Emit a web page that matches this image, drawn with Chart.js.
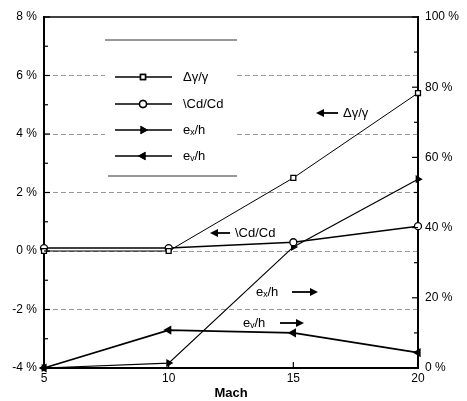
<!DOCTYPE html>
<html>
<head>
<meta charset="utf-8">
<script src="https://cdn.jsdelivr.net/npm/chart.js@4/dist/chart.umd.min.js"></script>
<style>
  html, body { margin: 0; padding: 0; background: #fff; }
  #wrap { width: 467px; height: 401px; }
</style>
</head>
<body>
<div id="wrap"><canvas id="c"></canvas></div>
<script>
// data
const mach = [5, 10, 15, 20];
const dGamma = [0.0, 0.0, 2.5, 5.4];      // left axis, %
const dCd = [0.1, 0.1, 0.3, 0.85];        // left axis, %
const exH = [0, 1.4, 34.5, 53.8];         // right axis, %
const evH = [0, 10.8, 10, 4.4];           // right axis, %
const seriesLabels = ['Δγ/γ', '\\Cd/Cd', 'eₓ/h', 'eᵥ/h'];
const leftTicks = [-4, -2, 0, 2, 4, 6, 8];
const rightTicks = [0, 20, 40, 60, 80, 100];

const FONT = "'Liberation Sans', Arial, sans-serif";
const pts = vals => mach.map((m, i) => ({ x: m, y: vals[i] }));

// frame, inner ticks, legend box and arrow labels
const extras = {
  id: 'extras',
  afterDatasetsDraw(chart) {
    const { ctx, chartArea: a, scales } = chart;
    const { x, y, y1 } = scales;
    ctx.save();
    ctx.strokeStyle = '#000';
    ctx.lineWidth = 1.5;
    ctx.beginPath();
    ctx.moveTo(a.left, a.top);
    ctx.lineTo(a.right, a.top);
    ctx.stroke();

    ctx.lineWidth = 1.2;
    for (let v = -4; v <= 8; v += 1) {
      const py = y.getPixelForValue(v);
      const len = v % 2 === 0 ? 6 : 4;
      ctx.beginPath(); ctx.moveTo(a.left, py); ctx.lineTo(a.left + len, py); ctx.stroke();
    }
    for (let v = 0; v <= 100; v += 10) {
      const py = y1.getPixelForValue(v);
      const len = v % 20 === 0 ? 6 : 4;
      ctx.beginPath(); ctx.moveTo(a.right, py); ctx.lineTo(a.right - len, py); ctx.stroke();
    }
    mach.forEach(m => {
      const px = x.getPixelForValue(m);
      ctx.beginPath(); ctx.moveTo(px, a.bottom); ctx.lineTo(px, a.bottom - 6); ctx.stroke();
    });

    // legend box
    const lx0 = 105, lx1 = 237, ly0 = 40, ly1 = 176;
    ctx.fillStyle = '#fff';
    ctx.fillRect(lx0, ly0, lx1 - lx0, ly1 - ly0);
    ctx.strokeStyle = '#333';
    ctx.lineWidth = 1;
    ctx.beginPath(); ctx.moveTo(lx0, ly0); ctx.lineTo(lx1, ly0); ctx.stroke();
    ctx.beginPath(); ctx.moveTo(lx0 + 3, ly1); ctx.lineTo(lx1, ly1); ctx.stroke();
    const rows = [77, 104, 130, 156];
    ctx.font = '13px ' + FONT;
    ctx.textBaseline = 'middle';
    chart.data.datasets.forEach((ds, i) => {
      const ry = rows[i];
      ctx.strokeStyle = '#000';
      ctx.lineWidth = 1.5;
      ctx.beginPath(); ctx.moveTo(115, ry); ctx.lineTo(172, ry); ctx.stroke();
      Chart.helpers.drawPoint(ctx, {
        pointStyle: ds.pointStyle,
        rotation: ds.pointRotation || 0,
        radius: ds.pointRadius,
        borderWidth: 1.2
      }, 143, ry);
      ctx.fillStyle = ds.pointBackgroundColor;
      ctx.strokeStyle = '#000';
      ctx.fill();
      ctx.stroke();
      ctx.fillStyle = '#000';
      ctx.fillText(ds.label, 183, ry);
    });

    // arrow annotations
    const arrow = (x0, x1, ay) => {
      const dir = Math.sign(x1 - x0);
      ctx.strokeStyle = '#000';
      ctx.fillStyle = '#000';
      ctx.lineWidth = 1.8;
      ctx.beginPath(); ctx.moveTo(x0, ay); ctx.lineTo(x1 - dir * 4, ay); ctx.stroke();
      ctx.beginPath();
      ctx.moveTo(x1 - dir * 8, ay - 4);
      ctx.lineTo(x1, ay);
      ctx.lineTo(x1 - dir * 8, ay + 4);
      ctx.closePath();
      ctx.fill();
    };
    ctx.font = '13px ' + FONT;
    arrow(338, 316, 113); ctx.fillText(seriesLabels[0], 343, 113);
    arrow(230, 210, 233); ctx.fillText(seriesLabels[1], 235, 233);
    ctx.fillText(seriesLabels[2], 256, 292); arrow(292, 318, 292);
    ctx.fillText(seriesLabels[3], 243, 323); arrow(280, 304, 323);
    ctx.restore();
  }
};

new Chart(document.getElementById('c'), {
  type: 'line',
  data: {
    datasets: [
      { label: seriesLabels[0], data: pts(dGamma), yAxisID: 'y', borderColor: '#000', borderWidth: 1,
        pointStyle: 'rect', pointRadius: 3.5, pointBackgroundColor: '#fff', pointBorderColor: '#000', pointBorderWidth: 1.3 },
      { label: seriesLabels[1], data: pts(dCd), yAxisID: 'y', borderColor: '#000', borderWidth: 1.5,
        pointStyle: 'circle', pointRadius: 3.5, pointBackgroundColor: '#fff', pointBorderColor: '#000', pointBorderWidth: 1.3 },
      { label: seriesLabels[2], data: pts(exH), yAxisID: 'y1', borderColor: '#000', borderWidth: 1.2,
        pointStyle: 'triangle', pointRotation: 90, pointRadius: 3.5, pointBackgroundColor: '#000', pointBorderColor: '#000' },
      { label: seriesLabels[3], data: pts(evH), yAxisID: 'y1', borderColor: '#000', borderWidth: 1.8,
        pointStyle: 'triangle', pointRotation: -90, pointRadius: 3.5, pointBackgroundColor: '#000', pointBorderColor: '#000' }
    ]
  },
  options: {
    responsive: true,
    maintainAspectRatio: false,
    animation: false,
    clip: false,
    layout: { padding: { top: 17, left: 0, right: 0, bottom: 0 } },
    plugins: { legend: { display: false }, tooltip: { enabled: false } },
    scales: {
      x: {
        type: 'linear', min: 5, max: 20,
        afterBuildTicks: s => { s.ticks = mach.map(v => ({ value: v })); },
        grid: { display: false, drawTicks: false },
        border: { color: '#000', width: 2 },
        ticks: { color: '#000', font: { family: FONT, size: 12 }, padding: 3, maxRotation: 0 },
        title: { display: true, text: 'Mach', color: '#000', font: { family: FONT, size: 13, weight: 'bold' }, padding: { top: 0, bottom: 0 } },
        afterFit: s => { s.height = 33; }
      },
      y: {
        position: 'left', min: -4, max: 8,
        afterBuildTicks: s => { s.ticks = leftTicks.map(v => ({ value: v })); },
        grid: { color: ctx => ctx.tick && ctx.tick.value === 8 ? 'rgba(0,0,0,0)' : '#999', lineWidth: 1, drawTicks: false },
        border: { color: '#000', width: 2, dash: [5, 3] },
        ticks: { color: '#000', font: { family: FONT, size: 12 }, padding: 7, callback: v => v + ' %' },
        afterFit: s => { s.width = 44; }
      },
      y1: {
        position: 'right', min: 0, max: 100,
        afterBuildTicks: s => { s.ticks = rightTicks.map(v => ({ value: v })); },
        grid: { display: false, drawTicks: false },
        border: { color: '#000', width: 2 },
        ticks: { color: '#000', font: { family: FONT, size: 12 }, padding: 7, callback: v => v + ' %' },
        afterFit: s => { s.width = 49; }
      }
    }
  },
  plugins: [extras]
});
</script>
</body>
</html>
